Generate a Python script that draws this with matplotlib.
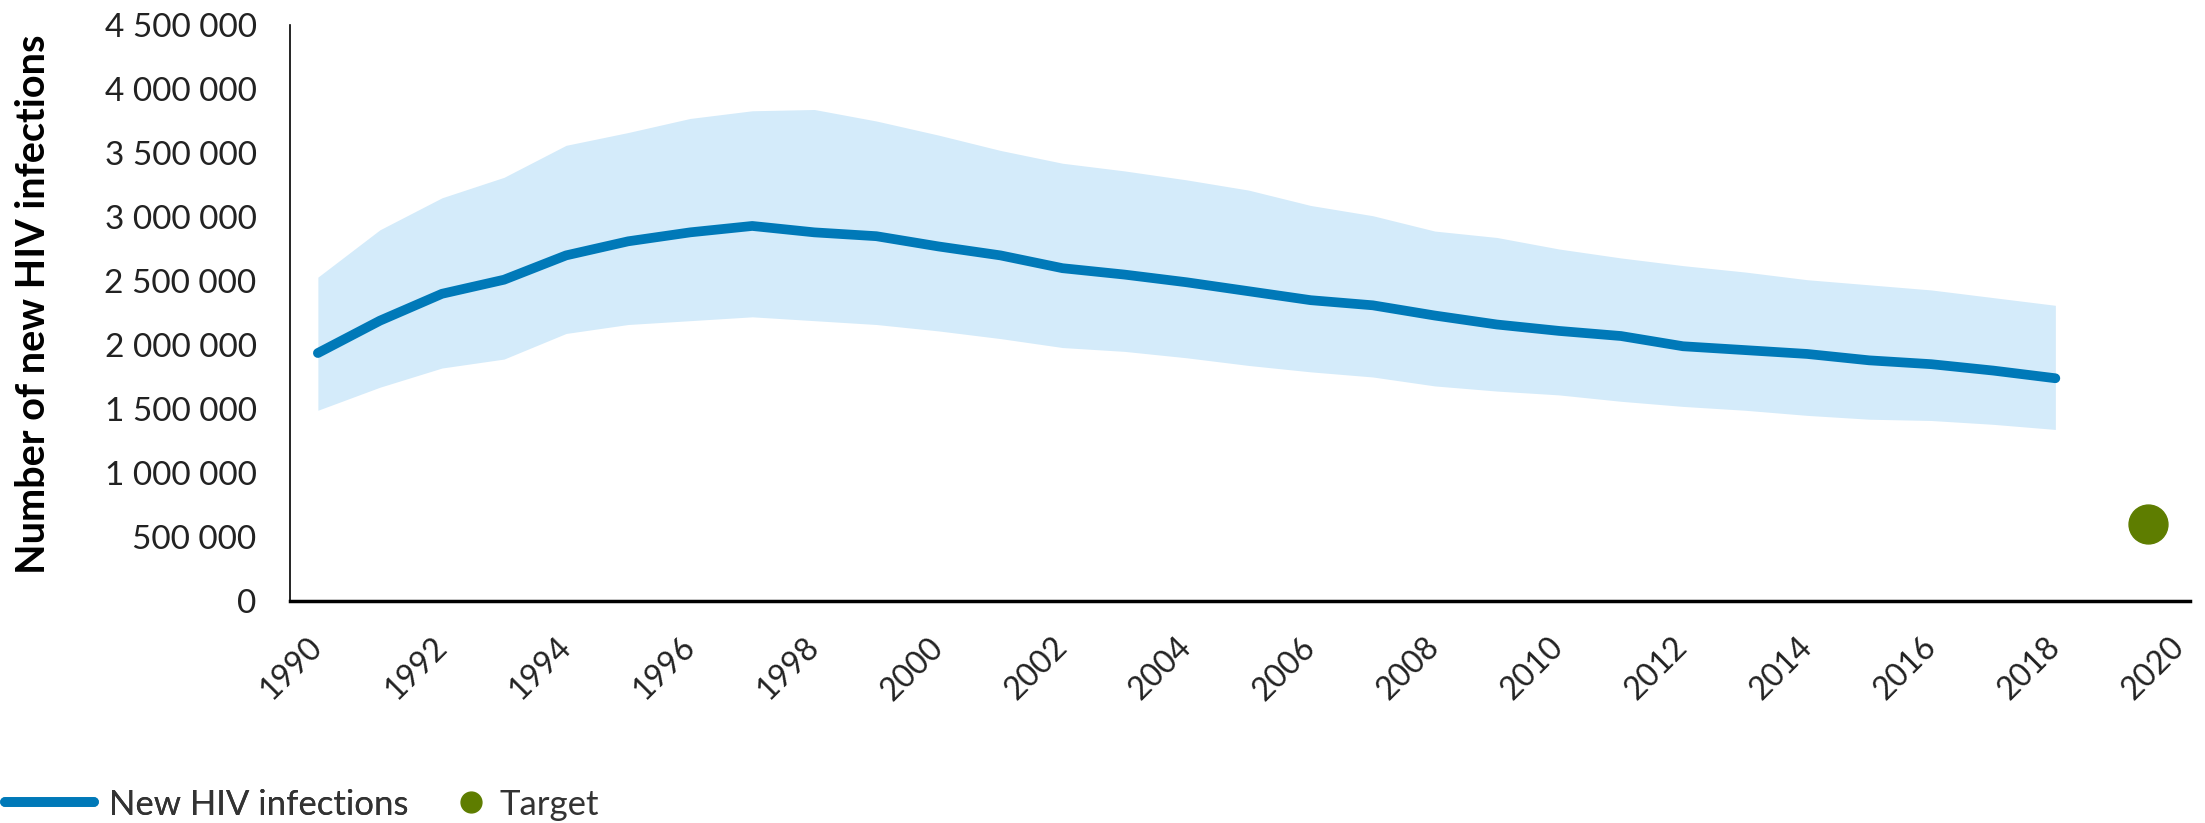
#!/usr/bin/env python3

import matplotlib
matplotlib.use('Agg')
import matplotlib.pyplot as plt
from matplotlib.lines import Line2D
import numpy as np

matplotlib.rcParams['font.family'] = ['Lato', 'DejaVu Sans']

figsize = (22.05, 8.23)
dpi = 100
fontsize = 24

years = list(range(1990, 2019))
new_infections = [1937000, 2190000, 2400000, 2510000, 2700000, 2810000, 2880000, 2930000,
                  2880000, 2850000, 2770000, 2700000, 2600000, 2550000, 2490000, 2420000,
                  2350000, 2310000, 2230000, 2160000, 2110000, 2070000, 1990000, 1960000,
                  1930000, 1880000, 1850000, 1800000, 1740000]
upper_bound = [2530000, 2900000, 3150000, 3310000, 3560000, 3660000, 3770000, 3830000,
               3840000, 3750000, 3640000, 3520000, 3420000, 3360000, 3290000, 3210000,
               3090000, 3010000, 2890000, 2840000, 2750000, 2680000, 2620000, 2570000,
               2510000, 2470000, 2430000, 2370000, 2310000]
lower_bound = [1490000, 1670000, 1820000, 1890000, 2090000, 2160000, 2190000, 2220000,
               2190000, 2160000, 2110000, 2050000, 1980000, 1950000, 1900000, 1840000,
               1790000, 1750000, 1680000, 1640000, 1610000, 1560000, 1520000, 1490000,
               1450000, 1420000, 1410000, 1380000, 1340000]
target_year = 2019.5
target_value = 600000

xtick_years = list(range(1990, 2021, 2))
ytick_values = [i * 500000 for i in range(10)]

line_color = '#0079b8'
band_color = '#d4ebfa'
target_color = '#5e7d00'


def fmt_thousands(v):
    return f'{v:,}'.replace(',', ' ')


def plot_infections():
    fig = plt.figure(figsize=figsize, dpi=dpi)
    ax = fig.add_axes([0.1315, 0.2698, 0.8617, 0.6998])

    ax.fill_between(years, lower_bound, upper_bound, color=band_color, linewidth=0)
    ax.plot(years, new_infections, color=line_color, linewidth=7, solid_capstyle='round')
    ax.plot([target_year], [target_value], 'o', color=target_color, markersize=28)

    ax.set_xlim(1989.55, 2020.17)
    ax.set_ylim(0, 4500000)

    ax.set_yticks(ytick_values)
    ax.set_yticklabels([fmt_thousands(v) for v in ytick_values], fontsize=fontsize, color='#222222')
    ax.set_xticks(xtick_years)
    ax.set_xticklabels([str(y) for y in xtick_years], fontsize=fontsize - 1, color='#222222',
                       rotation=45, ha='right', va='center', rotation_mode='anchor')

    ax.tick_params(axis='y', length=0, pad=24)
    ax.tick_params(axis='x', length=0, pad=30)

    for s in ['top', 'right']:
        ax.spines[s].set_visible(False)
    ax.spines['left'].set_linewidth(1.2)
    ax.spines['bottom'].set_linewidth(2.5)

    ax.set_ylabel('Number of new HIV infections', fontsize=28.5, fontweight='bold')
    ax.yaxis.set_label_coords(-0.125, 0.515)

    line_handle = Line2D([0], [0], color=line_color, linewidth=7, solid_capstyle='round')
    dot_handle = Line2D([0], [0], marker='o', color='none', markerfacecolor=target_color,
                        markeredgecolor=target_color, markersize=15)
    leg1 = fig.legend([line_handle], ['New HIV infections'], loc='lower left',
                      bbox_to_anchor=(-0.004, -0.014), frameon=False, fontsize=fontsize + 1,
                      handlelength=2.55, handletextpad=0.45, borderaxespad=0.0,
                      labelcolor='#333333')
    fig.add_artist(leg1)
    fig.legend([dot_handle], ['Target'], loc='lower left',
               bbox_to_anchor=(0.202, -0.014), frameon=False, fontsize=fontsize + 1,
               handlelength=0.7, handletextpad=0.45, borderaxespad=0.0,
               labelcolor='#333333')

    plt.savefig('out.png', dpi=dpi)


def main():
    plot_infections()


if __name__ == "__main__":
    main()
